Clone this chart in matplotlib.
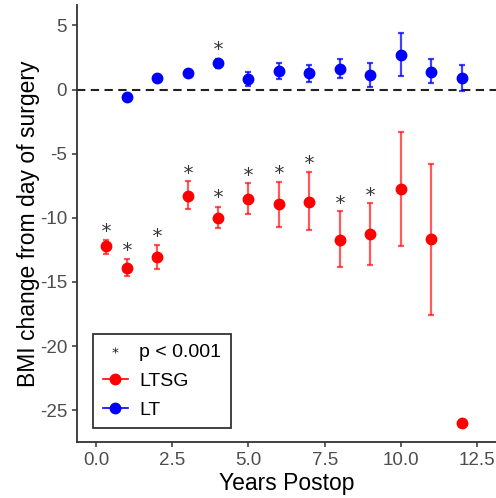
import numpy as np
import matplotlib
matplotlib.use("Agg")
import matplotlib.pyplot as plt
from matplotlib.lines import Line2D

plt.rcParams['font.family'] = ['Liberation Sans', 'DejaVu Sans']
plt.rcParams['axes.unicode_minus'] = False

# LT (blue) series
lt_years = [1, 2, 3, 4, 5, 6, 7, 8, 9, 10, 11, 12]
lt_mean = [-0.56, 0.92, 1.31, 2.05, 0.80, 1.47, 1.27, 1.63, 1.11, 2.70, 1.39, 0.92]
lt_low = [-0.70, 0.75, 1.10, 1.70, 0.27, 0.84, 0.61, 0.90, 0.22, 1.08, 0.48, -0.12]
lt_high = [-0.42, 1.10, 1.50, 2.36, 1.34, 2.10, 1.90, 2.38, 2.07, 4.39, 2.36, 1.91]

# LTSG (red) series
ltsg_years = [0.33, 1, 2, 3, 4, 5, 6, 7, 8, 9, 10, 11, 12]
ltsg_mean = [-12.23, -13.90, -13.06, -8.27, -10.00, -8.55, -8.95, -8.76, -11.73, -11.29, -7.77, -11.68, -26.0]
ltsg_low = [-12.80, -14.57, -13.97, -9.34, -10.80, -9.70, -10.70, -10.98, -13.87, -13.66, -12.17, -17.56, -26.0]
ltsg_high = [-11.70, -13.20, -12.10, -7.15, -9.15, -7.30, -7.20, -6.45, -9.50, -8.84, -3.30, -5.80, -26.0]

# significance stars (p < 0.001)
star_x = [0.33, 1, 2, 3, 4, 4, 5, 6, 7, 8, 9]
star_y = [-10.7, -12.2, -11.13, -6.18, -8.1, 3.48, -6.34, -6.2, -5.43, -8.55, -7.88]

x_ticks = [0.0, 2.5, 5.0, 7.5, 10.0, 12.5]
y_ticks = [5, 0, -5, -10, -15, -20, -25]

fig = plt.figure(figsize=(4.96, 4.98), dpi=100)
ax = fig.add_axes([0.155, 0.112, 0.845, 0.878])

ax.axhline(0, color='#222222', linestyle=(0, (4, 2.6)), linewidth=1.5, zorder=1)

for yrs, m, lo, hi, col, ecol in [
    (ltsg_years, ltsg_mean, ltsg_low, ltsg_high, '#FF0000', (1, 0, 0, 0.65)),
    (lt_years, lt_mean, lt_low, lt_high, '#0000FF', (0, 0, 1, 0.75)),
]:
    m = np.array(m)
    yerr = np.vstack([m - np.array(lo), np.array(hi) - m])
    ax.errorbar(yrs, m, yerr=yerr, fmt='o', color=col, ecolor=ecol,
                markersize=7.5, elinewidth=1.6, capsize=2.2, capthick=1.6, zorder=3)

# asterisks above significant points
ax.plot(star_x, star_y, marker='$*$', linestyle='none', color='#333333',
        markersize=6.5, markeredgewidth=0, zorder=4)

ax.set_xlim(-0.63, 13.12)
ax.set_ylim(-27.5, 6.6)
ax.set_xticks(x_ticks)
ax.set_xticklabels([f'{t:.1f}' for t in x_ticks])
ax.set_yticks(y_ticks)

for s in ['top', 'right']:
    ax.spines[s].set_visible(False)
for s in ['left', 'bottom']:
    ax.spines[s].set_color('#333333')
    ax.spines[s].set_linewidth(1.3)
ax.tick_params(colors='#333333', labelcolor='#4D4D4D', labelsize=13.5, length=3.5, width=1.1)

ax.set_xlabel('Years Postop', fontsize=16.5, labelpad=2)
ax.set_ylabel('BMI change from day of surgery', fontsize=16.5, labelpad=-0.5)

handles = [
    Line2D([], [], marker='$*$', linestyle='none', color='#222222', markersize=4.5,
           markeredgewidth=0),
    Line2D([], [], marker='o', color='#FF0000', markersize=7.5, linewidth=1.2),
    Line2D([], [], marker='o', color='#0000FF', markersize=7.5, linewidth=1.2),
]
leg = ax.legend(handles, ['p < 0.001', 'LTSG', 'LT'], loc='lower left',
                bbox_to_anchor=(0.038, 0.032), borderaxespad=0, fontsize=14,
                fancybox=False, edgecolor='#333333', framealpha=1,
                handlelength=1.3, borderpad=0.5, labelspacing=0.57,
                handletextpad=0.6)
leg.get_frame().set_linewidth(1.3)

fig.savefig('out.png', dpi=100)
